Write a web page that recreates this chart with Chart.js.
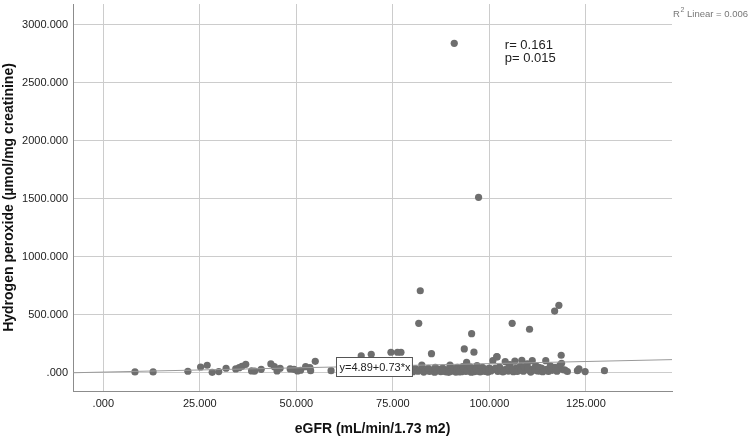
<!DOCTYPE html>
<html>
<head>
<meta charset="utf-8">
<script src="https://cdn.jsdelivr.net/npm/chart.js@4"></script>
<style>
  html, body { margin: 0; padding: 0; background: #fff; }
  #wrap { width: 750px; height: 438px; }
</style>
</head>
<body>
<div id="wrap"><canvas id="scatter" width="750" height="438"></canvas></div>
<script>
// eGFR (mL/min/1.73 m2)
const egfr = [
    8.2, 12.9, 21.9, 25.2, 26.9, 28.2, 29.9, 31.8, 34.3, 35.2, 35.9, 36.9, 38.4, 39.2, 40.9,
    43.4, 44.3, 45.0, 45.8, 48.4, 49.4, 50.3, 51.1, 52.4, 53.5, 53.7, 54.9, 59.0,
    66.8, 69.4, 74.5, 76.2, 77.1,
    79.5, 80.2, 80.8, 81.5, 82.0, 82.5, 83.0, 83.4, 84.0, 84.5, 85.2, 85.8, 86.3, 86.9, 87.4,
    87.9, 88.3, 88.8, 89.2, 89.8, 90.1, 90.5, 90.9, 91.3, 91.7, 92.0, 92.4, 92.8, 93.1, 93.5,
    93.9, 94.1, 94.5, 94.9, 95.3, 95.6, 96.0, 96.4, 96.8, 97.2, 97.6, 98.0, 98.4, 98.8, 99.2,
    99.6, 100.0, 100.4, 100.9, 101.3, 101.9, 102.2, 102.6, 103.0, 103.5, 104.1, 104.4, 104.9,
    105.3, 105.7, 106.2, 106.6, 107.0, 107.5, 108.0, 108.4, 108.8, 109.3, 109.8, 110.2, 110.7,
    111.1, 111.5, 112.0, 112.5, 113.0, 113.5, 114.0, 114.6, 114.9, 115.3, 115.8, 116.3, 117.0,
    117.5, 118.0, 118.3, 118.7, 119.2, 119.6, 120.2, 122.8, 123.2, 124.8, 129.8,
    84.2, 86.0, 88.0, 89.5, 90.7, 91.5, 92.2, 93.3, 94.2, 95.0, 95.9, 96.6, 97.4, 98.2, 99.0,
    99.8, 100.6, 101.6, 102.9, 103.8, 105.0, 106.0, 107.2, 108.2, 109.0, 110.0, 110.9, 111.8,
    112.8, 113.8, 116.0, 117.2,
    90.9, 97.2, 82.1, 81.7, 95.4, 105.9, 110.4, 116.9, 118.0, 85.0, 93.5, 96.0, 118.6, 102.0
];
// Hydrogen peroxide (µmol/mg creatinine)
const h2o2 = [
    6, 6, 12, 49, 64, 3, 9, 38, 32, 43, 55, 72, 15, 14, 29,
    75, 52, 15, 38, 32, 29, 15, 21, 52, 43, 17, 98, 17,
    144, 158, 176, 176, 176,
    20, 8, 35, 12, 25, 66, 5, 18, 30, 10, 22, 4, 15, 28, 9,
    40, 18, 6, 26, 66, 12, 35, 20, 5, 45, 15, 28, 8, 52, 22,
    10, 89, 30, 14, 4, 38, 20, 10, 60, 25, 6, 16, 32, 10, 22,
    5, 40, 15, 103, 28, 138, 10, 48, 20, 6, 95, 30, 14,
    70, 25, 8, 100, 40, 18, 55, 107, 12, 30, 75, 20, 5,
    103, 35, 60, 15, 15, 40, 25, 103, 29, 10, 58, 20, 45,
    12, 30, 66, 81, 25, 23, 10, 17, 32, 9, 17,
    38, 45, 12, 3, 28, 18, 6, 35, 18, 50, 8, 30, 14, 45, 30,
    12, 25, 40, 35, 15, 42, 32, 10, 25, 50, 40, 15, 22,
    45, 8, 38, 28,
    2838, 1511, 706, 425, 336, 425, 374, 531, 580, 164, 205, 177, 150, 136
];

const xTicks = [0, 25, 50, 75, 100, 125];
const yTicks = [0, 500, 1000, 1500, 2000, 2500, 3000];

// 回帰式 y = 4.89 + 0.73 * x
const fitIntercept = 4.89;
const fitSlope = 0.73;
const fitLabel = 'y=4.89+0.73*x';
const statLines = ['r= 0.161', 'p= 0.015'];

const xMin = -7.85, xMax = 147.3;
const yMin = -158, yMax = 3177;

const FONT = '"Liberation Sans", Arial, sans-serif';
const fmt = (v) => v === 0 ? '.000' : v.toFixed(3);

const points = egfr.map((x, i) => ({ x: x, y: h2o2[i] }));
const fitLine = [xMin, xMax].map(x => ({ x: x, y: fitIntercept + fitSlope * x }));

// 軸ラベルによる余白を消す
const noPadding = (s) => {
    s.paddingTop = 0;
    s.paddingBottom = 0;
    s.paddingLeft = 0;
    s.paddingRight = 0;
};

// 注釈の描画
const annotations = {
    id: 'annotations',
    afterDatasetsDraw(chart) {
        const { ctx, scales: { x, y } } = chart;
        ctx.save();

        // 回帰式ラベル
        ctx.font = '11px ' + FONT;
        const bx = x.getPixelForValue(60.4);
        const by = y.getPixelForValue(53);
        const tw = ctx.measureText(fitLabel).width;
        const bw = tw + 5, bh = 19;
        ctx.fillStyle = '#fff';
        ctx.fillRect(bx, by - bh / 2, bw, bh);
        ctx.strokeStyle = '#555';
        ctx.lineWidth = 1;
        ctx.strokeRect(Math.round(bx) + 0.5, Math.round(by - bh / 2) + 0.5, bw, bh);
        ctx.fillStyle = '#222';
        ctx.textBaseline = 'middle';
        ctx.textAlign = 'left';
        ctx.fillText(fitLabel, bx + 3, by + 1);

        // r, p
        ctx.font = '13px ' + FONT;
        const sx = x.getPixelForValue(104);
        statLines.forEach((line, i) => {
            ctx.fillText(line, sx, 45 + i * 13);
        });

        // R2 Linear（右端に合わせる）
        ctx.fillStyle = '#777';
        ctx.textBaseline = 'alphabetic';
        const big = '9.5px ' + FONT, small = '7px ' + FONT;
        const rest = ' Linear = 0.006';
        ctx.font = big;
        const wR = ctx.measureText('R').width;
        const wRest = ctx.measureText(rest).width;
        ctx.font = small;
        const w2 = ctx.measureText('2').width + 0.5;
        let tx = 748 - (wR + w2 + wRest);
        ctx.font = big;
        ctx.fillText('R', tx, 17);
        tx += wR;
        ctx.font = small;
        ctx.fillText('2', tx + 0.5, 12);
        tx += w2;
        ctx.font = big;
        ctx.fillText(rest, tx, 17);
        ctx.restore();
    }
};

document.addEventListener('DOMContentLoaded', () => {
    const ctx = document.getElementById('scatter').getContext('2d');
    new Chart(ctx, {
        type: 'scatter',
        data: {
            datasets: [
                {
                    label: 'fit',
                    type: 'line',
                    data: fitLine,
                    borderColor: '#9a9a9a',
                    borderWidth: 1,
                    pointRadius: 0,
                    fill: false,
                    order: 0
                },
                {
                    label: 'data',
                    data: points,
                    backgroundColor: '#6e6e6e',
                    borderColor: '#6e6e6e',
                    borderWidth: 0,
                    pointRadius: 3.6,
                    order: 1
                }
            ]
        },
        options: {
            responsive: false,
            animation: false,
            devicePixelRatio: 1,
            layout: { padding: { left: 0, right: 78, top: 4, bottom: 0 } },
            plugins: {
                legend: { display: false },
                tooltip: { enabled: false }
            },
            scales: {
                x: {
                    type: 'linear',
                    min: xMin,
                    max: xMax,
                    afterBuildTicks: (s) => { s.ticks = xTicks.map(v => ({ value: v })); },
                    afterFit: (s) => { s.height = 47; noPadding(s); },
                    grid: { color: '#cccccc', drawTicks: false },
                    border: { color: '#8c8c8c' },
                    ticks: {
                        padding: 6,
                        color: '#222',
                        font: { family: FONT, size: 11 },
                        callback: (v) => fmt(v)
                    },
                    title: {
                        display: true,
                        text: 'eGFR (mL/min/1.73 m2)',
                        color: '#111',
                        font: { family: FONT, size: 14, weight: 'bold' },
                        padding: { top: 0, bottom: 0 }
                    }
                },
                y: {
                    type: 'linear',
                    min: yMin,
                    max: yMax,
                    afterBuildTicks: (s) => { s.ticks = yTicks.map(v => ({ value: v })); },
                    afterFit: (s) => { s.width = 73; noPadding(s); },
                    grid: { color: '#cccccc', drawTicks: false },
                    border: { color: '#8c8c8c' },
                    ticks: {
                        padding: 5,
                        color: '#222',
                        font: { family: FONT, size: 11 },
                        callback: (v) => fmt(v)
                    },
                    title: {
                        display: true,
                        text: 'Hydrogen peroxide (µmol/mg creatinine)',
                        color: '#111',
                        font: { family: FONT, size: 14, weight: 'bold' },
                        padding: { top: 1, bottom: 0 }
                    }
                }
            }
        },
        plugins: [annotations]
    });
});
</script>
</body>
</html>
